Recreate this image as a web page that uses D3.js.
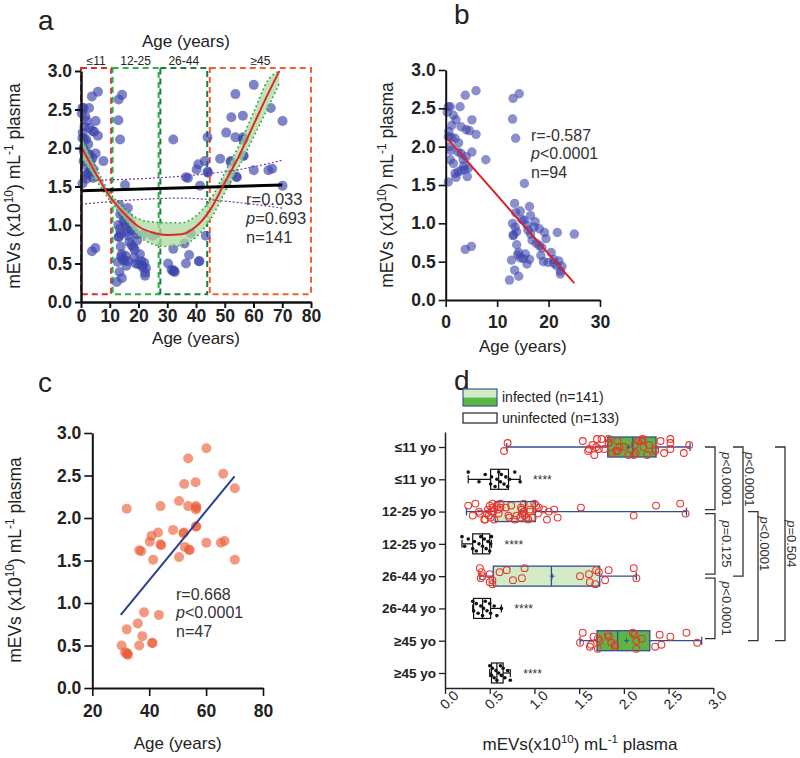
<!DOCTYPE html>
<html><head><meta charset="utf-8">
<script src="https://cdn.jsdelivr.net/npm/d3@7"></script>
<style>body{margin:0;background:#fff} svg{display:block} text{font-family:Arial,"Liberation Sans",sans-serif}</style>
</head><body><svg id="chart" width="800" height="758"></svg>
<script>
// ---------------- DATA ----------------
// Panel b (age <= 25)
const bAge = [0.5,0.9,1.5,2.0,2.8,3.8,5.9,3.0,4.0,4.6,5.1,5.9,5.1,7.8,0.5,1.1,1.8,0.8,0.9,1.5,2.4,3.0,3.4,4.0,1.8,2.4,3.0,3.7,4.2,0.5,3.8,5.0,0.3,1.2,2.5,1.0,3.5,4.4,0.6,2.0,
  13.1,14.3,13.0,13.6,15.3,13.4,16.3,13.6,14.5,13.0,15.2,17.4,13.8,13.2,16.0,16.5,18.2,19.2,21.7,25.0,17.6,18.2,18.7,13.1,14.0,14.5,15.1,16.3,15.5,19.0,19.9,21.0,22.0,21.0,22.6,22.3,22.3,13.4,12.4,14.2,14.8,15.8,13.5,16.8,17.2,14.2,15.8,18.5,19.5,20.5,13.8,16.5,21.5,12.8];
const bVal = [2.52,2.52,2.41,2.35,2.52,2.67,2.73,2.26,2.22,2.21,2.35,2.16,1.93,1.83,2.13,2.12,2.11,2.00,1.83,1.78,1.93,1.91,1.83,1.87,1.65,1.67,1.69,1.70,1.61,1.54,0.66,0.70,2.45,2.28,2.05,1.95,1.75,1.72,2.20,1.60,
  2.63,2.69,2.36,2.11,1.52,1.26,1.22,1.14,1.16,1.00,1.04,1.02,0.89,0.85,0.91,0.86,0.93,0.88,0.88,0.86,0.74,0.71,0.68,0.84,0.59,0.55,0.54,0.53,0.60,0.50,0.49,0.53,0.51,0.48,0.44,0.38,0.34,0.39,0.26,0.31,1.05,0.98,0.95,0.78,0.95,0.62,0.47,0.58,0.80,0.62,0.72,1.10,0.45,0.52];
// Panel c (age >= 26)
const cAge = [32.1,44.0,53.7,60.1,52.3,56.3,66.0,70.1,50.5,53.7,56.4,56.4,48.4,52.0,56.4,43.1,40.8,40.2,36.5,37.2,44.2,52.5,54.2,60.1,65.2,66.5,41.4,50.5,70.1,38.2,43.4,32.1,36.0,37.6,30.3,36.5,41.2,31.5,32.6,32.1,56.6,54.0,44.0,41.0,32.3,52.2,56.6];
const cVal = [2.11,2.14,2.70,2.82,2.40,2.42,2.52,2.35,2.20,2.14,2.14,2.10,1.86,1.82,1.90,1.83,1.79,1.72,1.62,1.61,1.68,1.66,1.62,1.71,1.71,1.73,1.51,1.54,1.51,0.89,0.86,0.69,0.76,0.61,0.50,0.50,0.53,0.42,0.39,0.40,2.12,1.63,1.69,0.53,0.41,1.83,1.90];

// Fit lines [age, value]
const lineA = [[0,1.445],[70,1.52]];
const ciUpperA = [[0,1.58],[20,1.60],[40,1.65],[55,1.72],[70,1.84]];
const ciLowerA = [[0,1.27],[20,1.33],[35,1.35],[50,1.31],[70,1.22]];
const polyAge = [0,5,10,15,20,25,30,35,40,45,50,55,60,65,69];
const polyFit = [2.02,1.68,1.37,1.15,0.98,0.90,0.87,0.88,0.98,1.20,1.55,1.90,2.30,2.70,3.00];
const polyLo  = [1.88,1.60,1.32,1.08,0.86,0.75,0.72,0.74,0.84,1.07,1.42,1.76,2.14,2.52,2.84];
const polyHi  = [2.16,1.76,1.42,1.22,1.08,1.04,1.03,1.03,1.12,1.33,1.68,2.04,2.46,2.88,3.00];
const lineB = [[0,2.13],[25,0.22]];
const lineC = [[30,0.86],[70,2.49]];

// Age group boxes in panel a
const groupNames = ["≤11","12-25","26-44","≥45"];
const groupFrom = [0,11,27.6,44.8];
const groupTo = [10.5,27,43.9,80];

// Panel d
const rowLabels = ["≤11 yo","≤11 yo","12-25 yo","12-25 yo","26-44 yo","26-44 yo","≥45 yo","≥45 yo"];
const infMin = [0.69,0.24,0.39,1.51], infQ1 = [1.82,0.56,0.54,1.70], infMed = [2.10,0.90,1.19,1.93], infQ3 = [2.36,1.01,1.73,2.29], infMax = [2.74,2.70,2.14,2.87], infMean = [2.05,0.85,1.20,2.03];
const uniMin = [0.26,0.19,0.31,0.50], uniQ1 = [0.51,0.31,0.32,0.52], uniMed = [0.60,0.42,0.42,0.58], uniQ3 = [0.71,0.50,0.51,0.65], uniMax = [0.84,0.52,0.63,0.73];
const uni11 = [0.26,0.38,0.45,0.51,0.52,0.56,0.58,0.60,0.62,0.63,0.66,0.68,0.70,0.72,0.78,0.84];
const uni1225 = [0.19,0.22,0.26,0.31,0.33,0.35,0.38,0.40,0.42,0.44,0.46,0.48,0.50,0.51,0.52];
const uni2644 = [0.31,0.32,0.35,0.37,0.40,0.42,0.43,0.45,0.47,0.50,0.51,0.55,0.58,0.63];
const uni45 = [0.50,0.52,0.53,0.55,0.57,0.58,0.60,0.62,0.63,0.65,0.67,0.70,0.73];
const brFrom = [0,0,2,2,4,0], brTo = [2,4,4,6,6,6], brLabel = ["<0.0001","<0.0001","=0.125","<0.0001","<0.0001","=0.504"], brLevel = [0,1,0,2,0,3], brAt = [1,1,3,3,5,3];
const yTicks = [0,0.5,1.0,1.5,2.0,2.5,3.0];

// ---------------- DRAW ----------------
const svg = d3.select("#chart");
const FF = 'Arial,"Liberation Sans",sans-serif';

function yTitle(x, y, size, spaced) {
  const t = svg.append("text").attr("transform", `translate(${x},${y}) rotate(-90)`)
    .attr("text-anchor","middle").attr("font-size", size).attr("fill","#222");
  t.append("tspan").text(spaced ? "mEVs (x10" : "mEVs(x10");
  t.append("tspan").attr("dy", -size*0.4).attr("font-size", size*0.68).text("10");
  t.append("tspan").attr("dy", size*0.4).text(") mL");
  t.append("tspan").attr("dy", -size*0.4).attr("font-size", size*0.68).text("-1");
  t.append("tspan").attr("dy", size*0.4).text(" plasma");
  return t;
}
function drawAxes(xS, yS, xTicks, sw, tk, xPad) {
  const gx = svg.append("g").attr("transform", `translate(0,${yS.range()[0]})`)
    .call(d3.axisBottom(xS).tickValues(xTicks).tickSize(tk).tickSizeOuter(0).tickPadding(xPad).tickFormat(d3.format("d")));
  const gy = svg.append("g").attr("transform", `translate(${xS.range()[0]},0)`)
    .call(d3.axisLeft(yS).tickValues(yTicks).tickSize(tk).tickSizeOuter(0).tickPadding(3).tickFormat(d3.format(".1f")));
  [gx, gy].forEach(g => {
    g.select(".domain").attr("stroke","#111").attr("stroke-width", sw);
    g.selectAll(".tick line").attr("stroke","#111").attr("stroke-width", sw*0.8);
    g.selectAll(".tick text").attr("fill","#222").attr("font-size",17.5).attr("font-weight","bold").attr("font-family",FF);
  });
}
function annot(x, y, r, p, n, size) {
  const g = svg.append("g").attr("font-size", size).attr("fill","#333");
  g.append("text").attr("x",x).attr("y",y).text(r);
  const t = g.append("text").attr("x",x).attr("y",y+size*1.15);
  t.append("tspan").attr("font-style","italic").text("p"); t.append("tspan").text(p);
  g.append("text").attr("x",x).attr("y",y+size*2.3).text(n);
}
function xTitle(x, y) {
  svg.append("text").attr("x",x).attr("y",y).attr("text-anchor","middle").attr("font-size",17).attr("fill","#222").text("Age (years)");
}
const line = (xS, yS) => d3.line().x(d => xS(d[0])).y(d => yS(d[1]));

// ===== Panel a =====
const ax = d3.scaleLinear().domain([0,80]).range([81,311]);
const ay = d3.scaleLinear().domain([0,3]).range([302,71]);
svg.append("text").attr("x",38).attr("y",30).attr("font-size",28).attr("fill","#222").text("a");
xTitle(ax(36.5), 47);
const boxColors = ["#e02a2a","#2fb24a","#17803a","#f2602e"];
groupNames.forEach((nm,i) => {
  svg.append("rect").attr("x",ax(groupFrom[i])).attr("y",ay(3.04))
    .attr("width",ax(groupTo[i])-ax(groupFrom[i])).attr("height",ay(0.1)-ay(3.04))
    .attr("fill","none").attr("stroke",boxColors[i]).attr("stroke-width",2).attr("stroke-dasharray","6,4");
  svg.append("text").attr("x",(ax(groupFrom[i])+ax(groupTo[i]))/2).attr("y",65)
    .attr("text-anchor","middle").attr("font-size",12).attr("fill","#222").text(nm);
});
const allAge = bAge.concat(cAge), allVal = bVal.concat(cVal);
svg.append("g").selectAll("circle").data(allAge).join("circle")
  .attr("cx", d => ax(d)).attr("cy", (d,i) => ay(allVal[i])).attr("r",5)
  .attr("fill","#3d45ad").attr("fill-opacity",0.66);
const bandA = d3.area().x((d,i) => ax(polyAge[i])).y0((d,i) => ay(polyLo[i])).y1((d,i) => ay(polyHi[i])).curve(d3.curveMonotoneX);
svg.append("path").datum(polyAge).attr("d", bandA).attr("fill","#a8d99a").attr("fill-opacity",0.72);
const pl = arr => d3.line().x((d,i) => ax(polyAge[i])).y((d,i) => ay(arr[i])).curve(d3.curveMonotoneX);
[polyLo, polyHi].forEach(arr => svg.append("path").datum(polyAge).attr("d", pl(arr))
  .attr("fill","none").attr("stroke","#1f9a3a").attr("stroke-width",1.6).attr("stroke-dasharray","1.5,3"));
[ciUpperA, ciLowerA].forEach(arr => svg.append("path").datum(arr)
  .attr("d", line(ax,ay).curve(d3.curveMonotoneX)(arr)).attr("fill","none")
  .attr("stroke","#7a3a9a").attr("stroke-width",1.2).attr("stroke-dasharray","2,2"));
svg.append("path").datum(lineA).attr("d", line(ax,ay)).attr("stroke","#000").attr("stroke-width",3);
svg.append("path").datum(polyAge).attr("d", pl(polyFit)).attr("fill","none").attr("stroke","#e2262a").attr("stroke-width",2);
drawAxes(ax, ay, d3.range(0,81,10), 2.5, 6, 2);
xTitle(ax(40), 344);
yTitle(20, 186, 17.5, true);
annot(246, 205, "r=0.033", "=0.693", "n=141", 16.5);

// ===== Panel b =====
const bx = d3.scaleLinear().domain([0,30]).range([445.7,600]);
const by = d3.scaleLinear().domain([0,3]).range([300,70]);
svg.append("text").attr("x",454).attr("y",24).attr("font-size",28).attr("fill","#222").text("b");
svg.append("g").selectAll("circle").data(bAge).join("circle")
  .attr("cx", d => bx(d)).attr("cy", (d,i) => by(bVal[i])).attr("r",4.7)
  .attr("fill","#3d45ad").attr("fill-opacity",0.6);
svg.append("path").datum(lineB).attr("d", line(bx,by)).attr("stroke","#d8232a").attr("stroke-width",2);
drawAxes(bx, by, [0,10,20,30], 2, 7, 9);
xTitle(bx(15), 352);
yTitle(393, 185, 17.5, true);
annot(531, 141, "r=-0.587", "<0.0001", "n=94", 16);

// ===== Panel c =====
const cx = d3.scaleLinear().domain([20,80]).range([92.3,263]);
const cy = d3.scaleLinear().domain([0,3]).range([688,433]);
svg.append("text").attr("x",38).attr("y",392).attr("font-size",28).attr("fill","#222").text("c");
svg.append("g").selectAll("circle").data(cAge).join("circle")
  .attr("cx", d => cx(d)).attr("cy", (d,i) => cy(cVal[i])).attr("r",5)
  .attr("fill","#ec5a34").attr("fill-opacity",0.62);
svg.append("path").datum(lineC).attr("d", line(cx,cy)).attr("stroke","#2a3f8f").attr("stroke-width",2);
drawAxes(cx, cy, [20,40,60,80], 2, 8, 9);
xTitle(cx(50), 749);
yTitle(21, 560, 17.5, true);
annot(176, 600, "r=0.668", "<0.0001", "n=47", 16);

// ===== Panel d =====
const dx = d3.scaleLinear().domain([0,3]).range([445,713.3]);
const dy = d3.scalePoint().domain(d3.range(8)).range([432,688]).padding(0.465);
svg.append("text").attr("x",454).attr("y",390).attr("font-size",28).attr("fill","#222").text("d");
// legend
svg.append("rect").attr("x",463).attr("y",389).attr("width",34).attr("height",8.5).attr("fill","#d3eac6");
svg.append("rect").attr("x",463).attr("y",397.5).attr("width",34).attr("height",8.5).attr("fill","#5cb646");
svg.append("rect").attr("x",463).attr("y",389).attr("width",34).attr("height",17).attr("fill","none").attr("stroke","#3b5898").attr("stroke-width",1.2);
svg.append("rect").attr("x",463).attr("y",413).attr("width",34).attr("height",10).attr("fill","#fff").attr("stroke","#222").attr("stroke-width",1.2);
svg.append("text").attr("x",502).attr("y",402).attr("font-size",14).attr("fill","#222").text("infected (n=141)");
svg.append("text").attr("x",502).attr("y",423).attr("font-size",14).attr("fill","#222").text("uninfected (n=133)");

const infGroups = [
  bVal.filter((v,i) => bAge[i] <= 11),
  bVal.filter((v,i) => bAge[i] > 11),
  cVal.filter((v,i) => cAge[i] < 45),
  cVal.filter((v,i) => cAge[i] >= 45)
];
const uniGroups = [uni11, uni1225, uni2644, uni45];
const infFill = ["#5cb646","#d3eac6","#d3eac6","#5cb646"];
const hb = 10;
for (let k = 0; k < 4; k++) {
  let yc = dy(2*k);
  const gi = svg.append("g");
  gi.append("line").attr("x1",dx(infMin[k])).attr("x2",dx(infMax[k])).attr("y1",yc).attr("y2",yc).attr("stroke","#2f4f95").attr("stroke-width",1.3);
  [infMin[k], infMax[k]].forEach(v => gi.append("line").attr("x1",dx(v)).attr("x2",dx(v)).attr("y1",yc-4).attr("y2",yc+4).attr("stroke","#2f4f95").attr("stroke-width",1.3));
  gi.append("rect").attr("x",dx(infQ1[k])).attr("y",yc-hb).attr("width",dx(infQ3[k])-dx(infQ1[k])).attr("height",2*hb)
    .attr("fill",infFill[k]).attr("stroke","#2f4f95").attr("stroke-width",1.3);
  gi.append("line").attr("x1",dx(infMed[k])).attr("x2",dx(infMed[k])).attr("y1",yc-hb).attr("y2",yc+hb).attr("stroke","#2f4f95").attr("stroke-width",1.3);
  gi.append("path").attr("d",`M${dx(infMean[k])-2.5},${yc}h5M${dx(infMean[k])},${yc-2.5}v5`).attr("stroke","#2f4f95").attr("stroke-width",1);
  gi.selectAll("circle").data(infGroups[k]).join("circle")
    .attr("cx", d => dx(d)).attr("cy", (d,i) => yc + ((i*5)%9 - 4)*2)
    .attr("r",3.4).attr("fill","none").attr("stroke","#e8362f").attr("stroke-width",1.1);
  yc = dy(2*k+1);
  const gu = svg.append("g");
  gu.append("line").attr("x1",dx(uniMin[k])).attr("x2",dx(uniMax[k])).attr("y1",yc).attr("y2",yc).attr("stroke","#111").attr("stroke-width",1.2);
  [uniMin[k], uniMax[k]].forEach(v => gu.append("line").attr("x1",dx(v)).attr("x2",dx(v)).attr("y1",yc-4).attr("y2",yc+4).attr("stroke","#111").attr("stroke-width",1.2));
  gu.append("rect").attr("x",dx(uniQ1[k])).attr("y",yc-hb).attr("width",dx(uniQ3[k])-dx(uniQ1[k])).attr("height",2*hb)
    .attr("fill","#fff").attr("stroke","#111").attr("stroke-width",1.2);
  gu.append("line").attr("x1",dx(uniMed[k])).attr("x2",dx(uniMed[k])).attr("y1",yc-hb).attr("y2",yc+hb).attr("stroke","#111").attr("stroke-width",1.2);
  gu.selectAll("circle").data(uniGroups[k]).join("circle")
    .attr("cx", d => dx(d)).attr("cy", (d,i) => yc + ((i*4)%7 - 3)*2.4)
    .attr("r",1.8).attr("fill","#111");
  gu.append("text").attr("x",dx(uniMax[k])+13).attr("y",yc+5).attr("font-size",12).attr("fill","#333").text("****");
}
const gdx = svg.append("g").attr("transform","translate(0,688)")
  .call(d3.axisBottom(dx).tickValues(yTicks).tickSize(6).tickSizeOuter(0).tickFormat(d3.format(".1f")));
gdx.selectAll(".tick text").attr("font-size",14).attr("fill","#222").attr("font-family",FF)
  .attr("x",4).attr("y",11).attr("dy","0.35em").attr("transform","rotate(-45)").style("text-anchor","end");
const gdy = svg.append("g").attr("transform","translate(445,0)")
  .call(d3.axisLeft(dy).tickSize(6).tickSizeOuter(0).tickPadding(3).tickFormat(i => rowLabels[i]));
gdy.selectAll(".tick text").attr("font-size",13.5).attr("font-weight","bold").attr("fill","#222").attr("font-family",FF);
[gdx, gdy].forEach(g => { g.select(".domain").attr("stroke","#222").attr("stroke-width",1.5); g.selectAll(".tick line").attr("stroke","#222").attr("stroke-width",1.3); });
// brackets
const lvlX = [705,733,748,775];
const lvlGap = [7,2,2,2];
brFrom.forEach((f,j) => {
  const lv = brLevel[j];
  const x0 = lvlX[lv], x1 = x0 + 10;
  const pad = lv === 0 ? 2 : 0;
  const y1 = dy(f) + (f > 0 ? pad : 0), y2 = dy(brTo[j]) - pad;
  svg.append("path").attr("d",`M${x0},${y1}H${x1}V${y2}H${x0}`).attr("fill","none").attr("stroke","#333").attr("stroke-width",1.3);
  const t = svg.append("text").attr("transform",`translate(${x1+lvlGap[lv]},${dy(brAt[j])}) rotate(90)`)
    .attr("text-anchor","middle").attr("font-size",13).attr("fill","#333");
  t.append("tspan").attr("font-style","italic").text("p"); t.append("tspan").text(brLabel[j]);
});
const xt = svg.append("text").attr("x",580).attr("y",750).attr("text-anchor","middle").attr("font-size",17).attr("fill","#222");
xt.append("tspan").text("mEVs(x10"); xt.append("tspan").attr("dy",-7).attr("font-size",11.5).text("10");
xt.append("tspan").attr("dy",7).text(") mL"); xt.append("tspan").attr("dy",-7).attr("font-size",11.5).text("-1");
xt.append("tspan").attr("dy",7).text(" plasma");
</script></body></html>
